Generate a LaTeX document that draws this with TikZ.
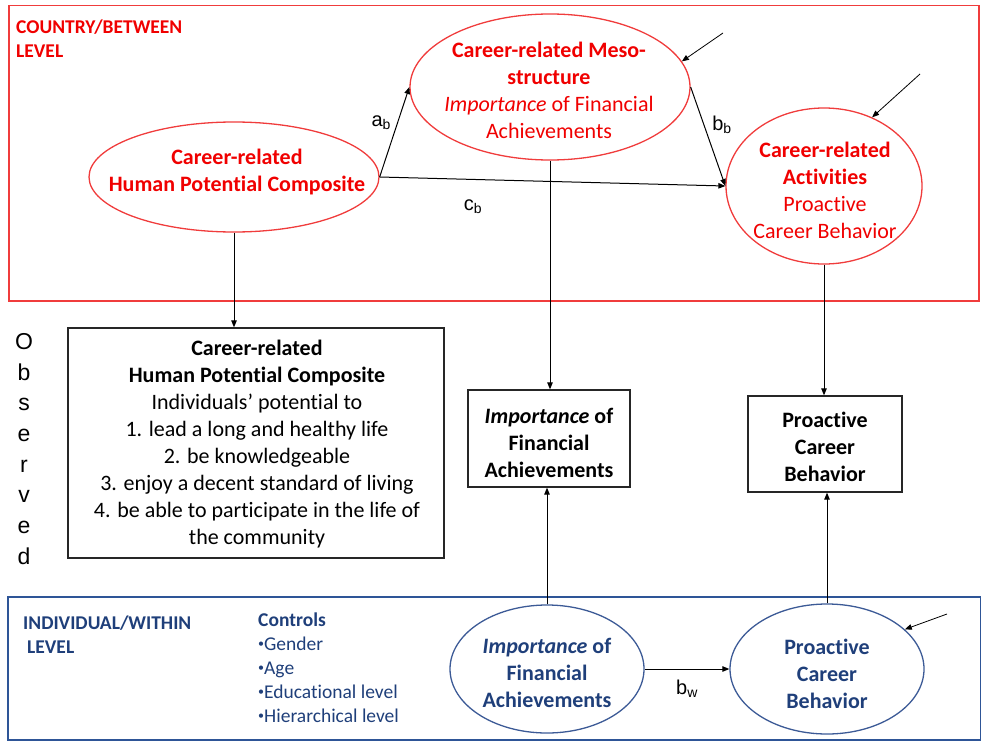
\documentclass[tikz,border=0pt]{standalone}
\usepackage{fontspec}
\setmainfont{Carlito}[Ligatures=NoCommon]
\newfontfamily\arialf{Liberation Sans}
\usetikzlibrary{shapes.geometric,arrows.meta}
\definecolor{rtxt}{RGB}{240,0,0}
\definecolor{rline}{RGB}{240,60,60}
\definecolor{btxt}{RGB}{31,63,122}
\definecolor{bline}{RGB}{60,90,150}
\definecolor{bframe}{RGB}{46,85,151}
\newcommand{\smbul}{\raisebox{0.18em}{\fontsize{12}{12}\selectfont\textbullet}}
\begin{document}
\begin{tikzpicture}[x=1pt,y=-1pt,
  arr/.style={-{Triangle[length=7pt,width=5.5pt]}, line width=1pt},
  thinarr/.style={-{Triangle[length=7pt,width=5.5pt]}, line width=0.8pt},
  redell/.style={ellipse, draw=rline, line width=1.3pt, inner sep=0pt},
  blueell/.style={ellipse, draw=bline, line width=1.3pt, inner sep=0pt},
  obsbox/.style={rectangle, draw=black!85, line width=1.3pt, inner sep=0pt},
  big/.style={font=\fontsize{22}{27}\selectfont, align=center, inner sep=0pt},
  lab/.style={font=\arialf\fontsize{20}{24}\selectfont, inner sep=0pt},
  hdr/.style={font=\bfseries\fontsize{19.5}{24}\selectfont, align=left, inner sep=0pt, anchor=west},
  ctl/.style={font=\fontsize{19.5}{24}\selectfont, align=left, inner sep=0pt, anchor=west, text=btxt},
]
\useasboundingbox (0,0) rectangle (981,741);
% frames
\node[draw=rline, line width=1.5pt, minimum width=970pt, minimum height=295pt, inner sep=0pt, anchor=north west] (country) at (8,5) {};
\node[draw=bframe, line width=1.8pt, minimum width=973pt, minimum height=143pt, inner sep=0pt, anchor=north west] (indiv) at (7,596) {};
% headers
\node[hdr, text=rtxt] (hdrc) at (16,39) {COUNTRY/BETWEEN\\LEVEL};
\node[hdr, text=btxt] (hdri) at (23,635) {INDIVIDUAL/WITHIN\\\hspace{4pt}LEVEL};
\node[ctl] (ctrl) at (258,668) {\textbf{Controls}\\\smbul Gender\\\smbul Age\\\smbul Educational level\\\smbul Hierarchical level};
% red ellipses
\node[redell, minimum width=290pt, minimum height=110pt] (hpc) at (234,177) {};
\node[big, text=rtxt, font=\bfseries\fontsize{22}{27}\selectfont] (hpct) at (237,172) {Career-related\\Human Potential Composite};
\node[redell, minimum width=280pt, minimum height=146pt] (meso) at (550,87) {};
\node[big, text=rtxt] (mesot) at (549,90) {\textbf{Career-related Meso-}\\\textbf{structure}\\\textit{Importance} of Financial\\Achievements};
\node[redell, minimum width=196pt, minimum height=156pt] (act) at (824,186) {};
\node[big, text=rtxt] (actt) at (825,190) {\textbf{Career-related}\\\textbf{Activities}\\Proactive\\Career Behavior};
% observed boxes
\node[obsbox, minimum width=376pt, minimum height=230pt] (hpcbox) at (256,443) {};
\node[big] (hpcboxt) at (257,444) {\textbf{Career-related}\\\textbf{Human Potential Composite}\\Individuals' potential to\\1. lead a long and healthy life\\2. be knowledgeable\\3. enjoy a decent standard of living\\4. be able to participate in the life of\\the community};
\node[obsbox, minimum width=162pt, minimum height=97pt] (impbox) at (549,438.5) {};
\node[big, font=\bfseries\fontsize{22}{27}\selectfont] (impboxt) at (549,443) {\textit{Importance} of\\Financial\\Achievements};
\node[obsbox, minimum width=154pt, minimum height=96pt] (probox) at (825,444) {};
\node[big, font=\bfseries\fontsize{22}{27}\selectfont] (proboxt) at (825,447) {Proactive\\Career\\Behavior};
\node[font=\arialf\fontsize{23}{30.7}\selectfont, align=center, inner sep=0pt] (obs) at (24,449) {O\\b\\s\\e\\r\\v\\e\\d};
% blue ellipses
\node[blueell, minimum width=194pt, minimum height=128pt] (impw) at (547,669) {};
\node[big, text=btxt, font=\bfseries\fontsize{22}{27}\selectfont] (impwt) at (547,673) {\textit{Importance} of\\Financial\\Achievements};
\node[blueell, minimum width=194pt, minimum height=130pt] (prow) at (827,669) {};
\node[big, text=btxt, font=\bfseries\fontsize{22}{27}\selectfont] (prowt) at (827,674) {Proactive\\Career\\Behavior};
% structural arrows
\draw[arr] (hpc.east) -- node[lab, pos=0.6, left=6pt] {a\textsubscript{b}} (meso.west);
\draw[arr] (hpc.east) -- node[lab, pos=0.27, below=20pt] {c\textsubscript{b}} (act.west);
\draw[arr] (meso.east) -- node[lab, pos=0.38, right=8pt] {b\textsubscript{b}} (act.west);
\draw[arr] (impw.east) -- node[lab, below=10pt] {b\textsubscript{w}} (prow.west);
% measurement arrows
\draw[arr] (hpc.south) -- (hpc.south |- hpcbox.north);
\draw[arr] (meso.south) -- (meso.south |- impbox.north);
\draw[arr] (act.south) -- (act.south |- probox.north);
\draw[arr] (impw.north) -- (impw.north |- impbox.south);
\draw[arr] (prow.north) -- (prow.north |- probox.south);
% residual arrows
\coordinate (e1) at (723,33);
\coordinate (e2) at (920,74);
\coordinate (e3) at (947,614);
\draw[thinarr] (e1) -- (meso.11);
\draw[thinarr] (e2) -- (act.55);
\draw[thinarr] (e3) -- (prow.27);
\end{tikzpicture}
\end{document}
